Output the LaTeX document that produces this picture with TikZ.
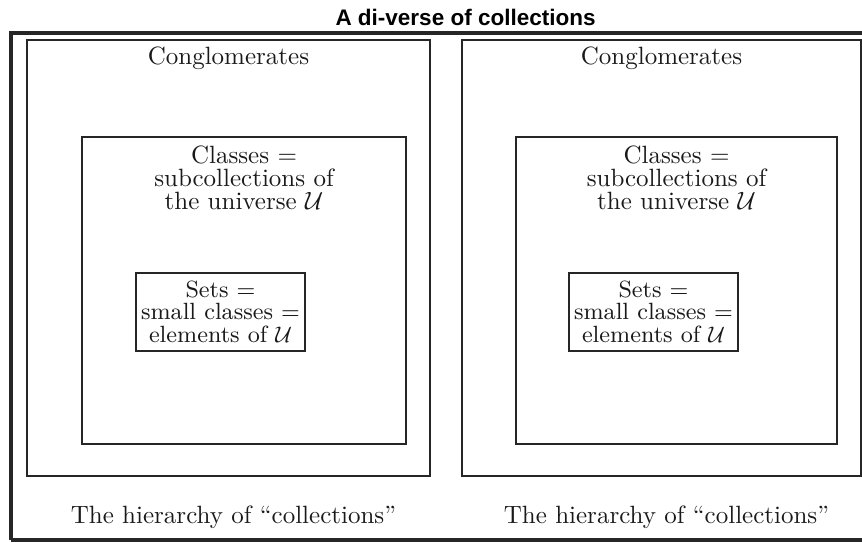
\documentclass[tikz,border=0pt]{standalone}
\usepackage{amsmath,amssymb}
\usepackage{fontspec}
\newfontfamily\titlefont{Liberation Sans}
\usepackage{tikz}
\usetikzlibrary{calc,positioning}
\usepackage{xcolor}

\tikzset{
	boxline/.style={draw=black!85,line width=0.8pt},
	frameline/.style={draw=black!85,line width=1.3pt},
	lbl/.style={text=black!90,align=center,anchor=base,inner sep=0pt,
		font=\fontsize{10}{9.2}\selectfont}
}

\begin{document}
\begin{tikzpicture}[x=0.4pt,y=-0.4pt]
		\useasboundingbox (0,0) rectangle (862,542);
		\clip (0,0) rectangle (862,542);
		\node [anchor=base west,inner sep=0pt,font=\titlefont\bfseries\fontsize{9}{10}\selectfont] (title) at (335,25) {A di-verse of collections};
		\draw[frameline] (11,540) -- (11,33) -- (880,33);
		\draw[frameline] (11,540) -- (880,540);
		
		\foreach \i/\pl/\pr/\il/\ir/\sl/\sr in {1/27/430/82/406/136/305, 2/462/861/516/837/569/738}
		{
		\draw[boxline] (\pl,40) rectangle (\pr,476);
		\draw[boxline] (\il,137) rectangle (\ir,444);
		\draw[boxline] (\sl,273) rectangle (\sr,351);
		% the base anchor of a three-line label is its last line
		\node [lbl] (congl\i) at ({(\pl+\pr)/2},64) {Conglomerates};
		\node [lbl] (class\i) at ({(\il+\ir)/2},209) {Classes =\\ subcollections of\\ the universe $\mathcal{U}$};
		\node [lbl,font=\fontsize{9.4}{9}\selectfont] (sets\i) at ({(\sl+\sr)/2},342) {Sets =\\ small classes =\\ elements of $\mathcal{U}$};
		\node [lbl] (hier\i) at ({(\pl+\pr)/2+5},523) {The hierarchy of ``collections''};
		}
	\end{tikzpicture}
\end{document}
